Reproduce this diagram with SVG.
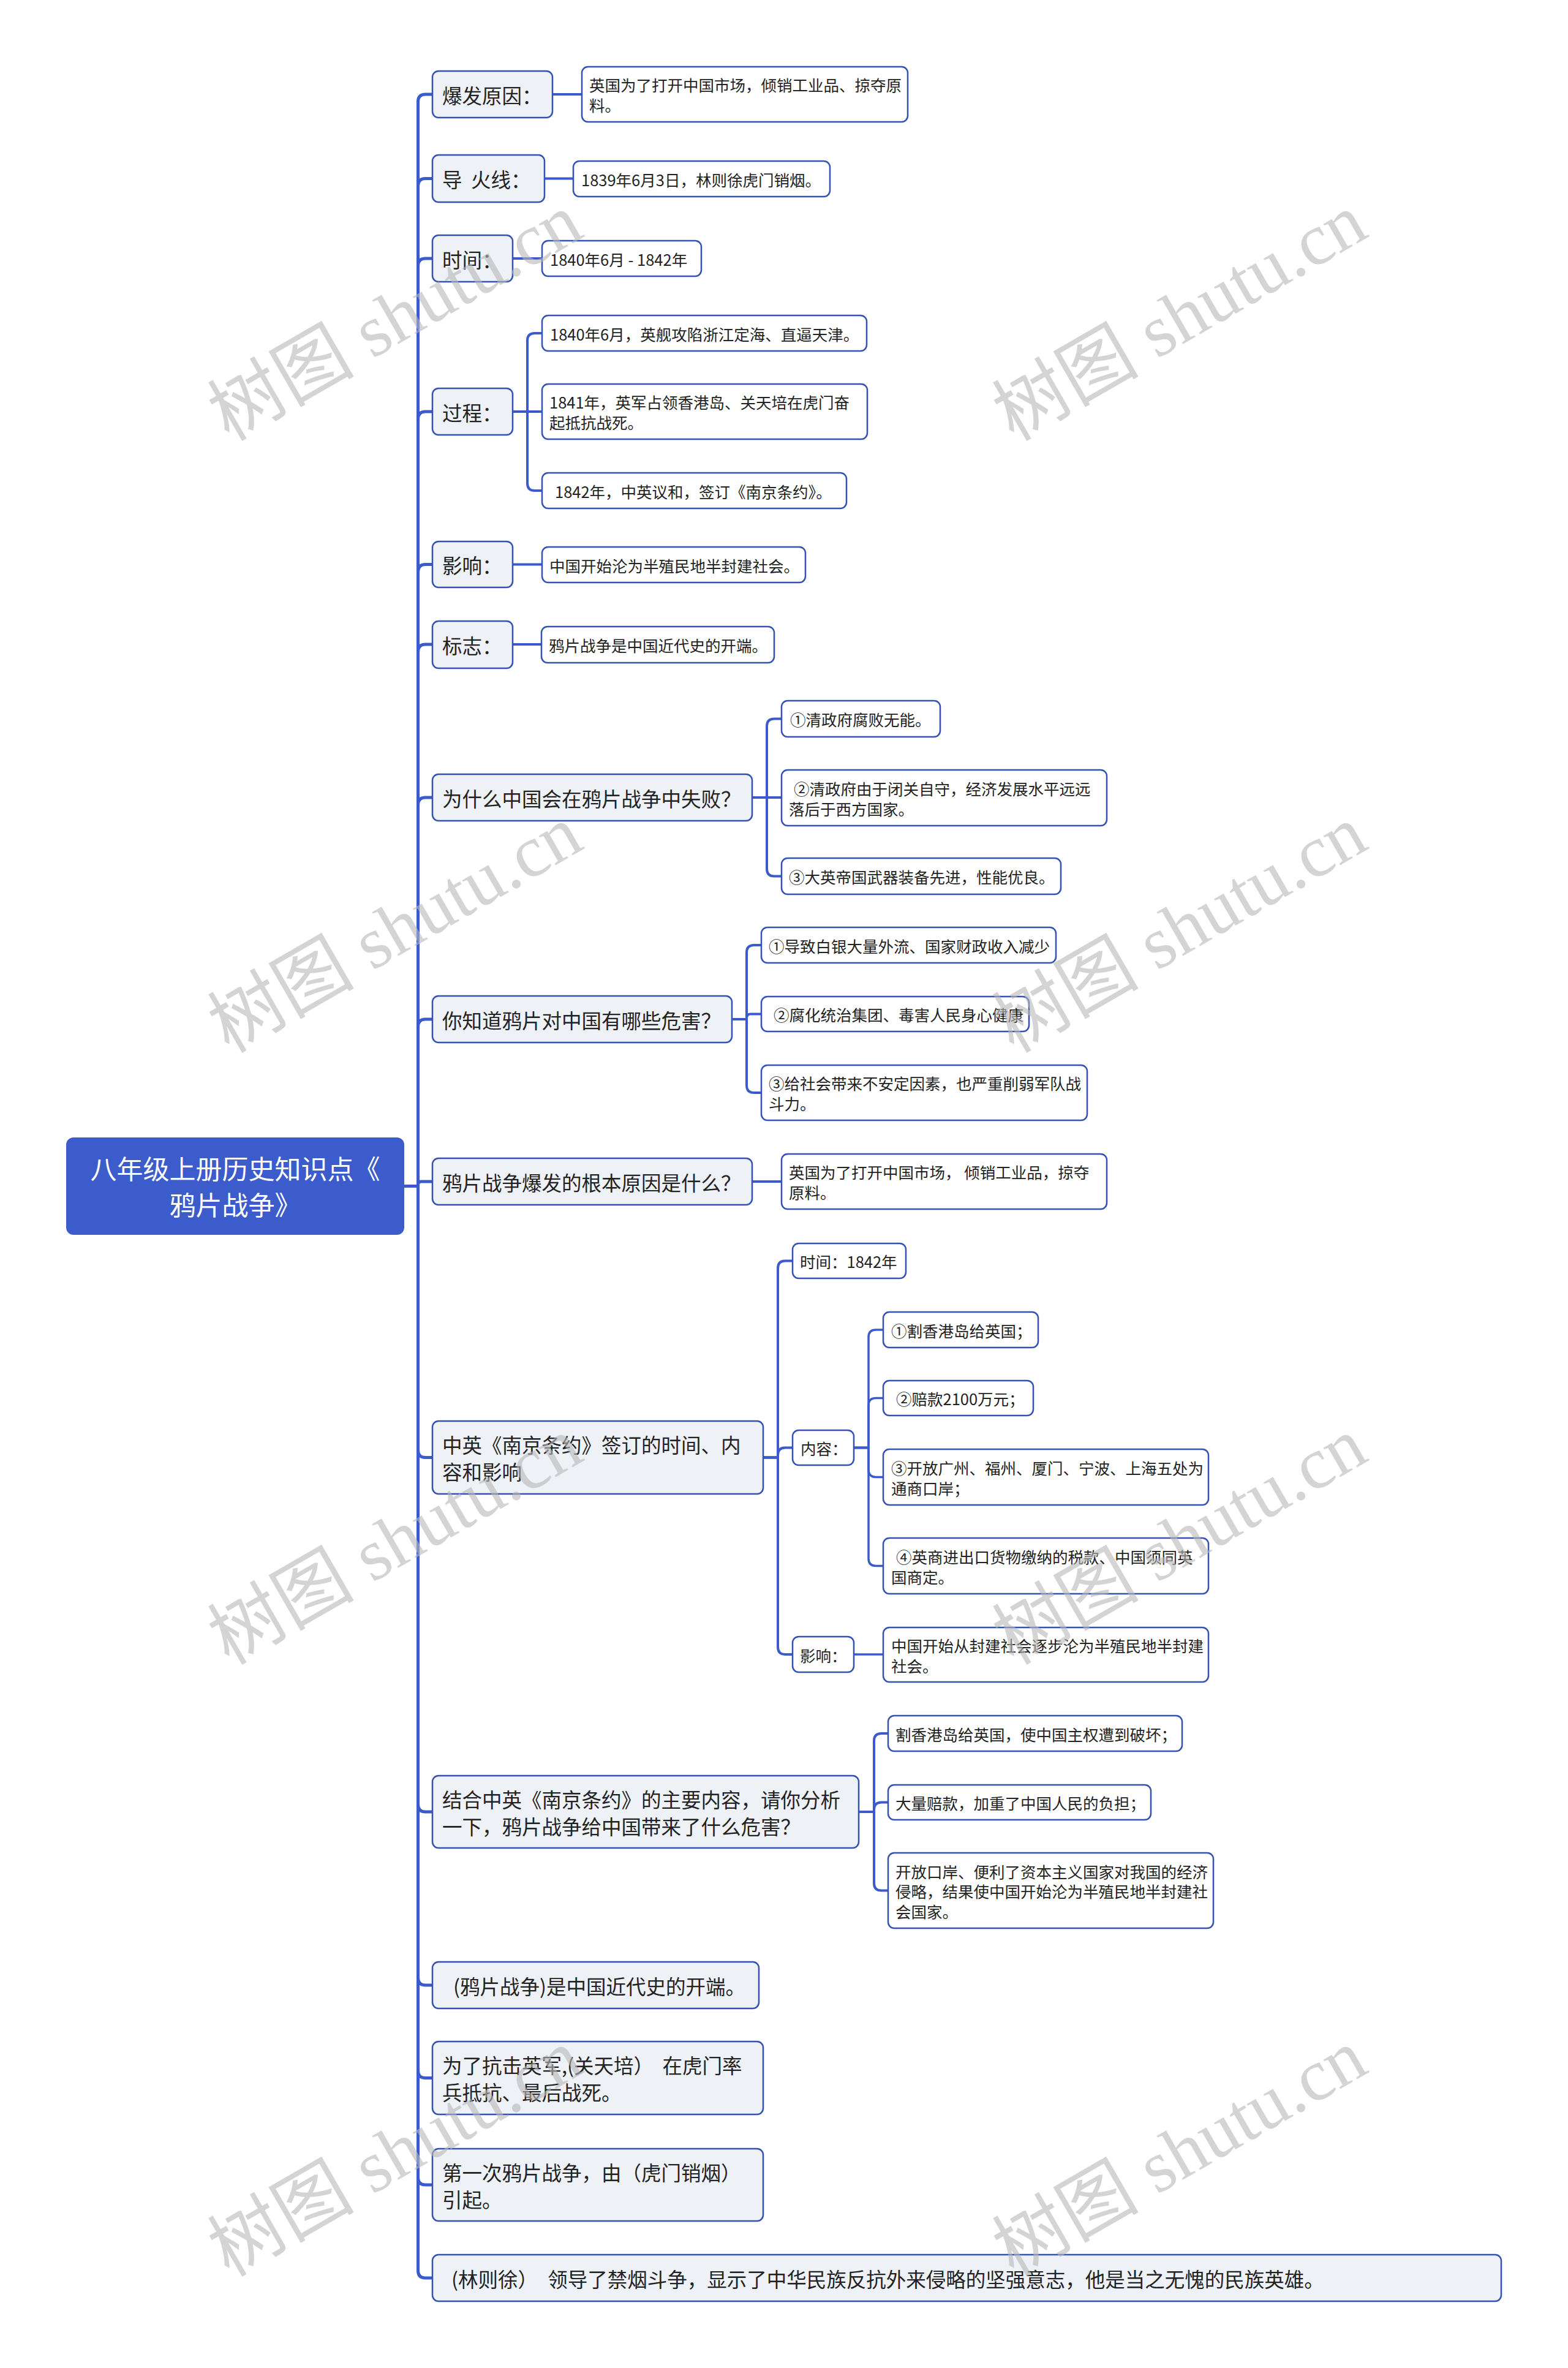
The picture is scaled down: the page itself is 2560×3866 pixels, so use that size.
<svg xmlns="http://www.w3.org/2000/svg" width="2560" height="3866" viewBox="0 0 2560 3866">
<style>
text{font-family:"Noto Sans CJK SC","Noto Sans",sans-serif;dominant-baseline:central;fill:#222222}
.m rect{fill:#eef1f6;stroke:#3352b3;stroke-width:2.5}
.l rect{fill:#ffffff;stroke:#3352b3;stroke-width:2.5}
.m text{font-size:32.5px}
.l text{font-size:25.5px}
.pre{white-space:pre}
#root rect{fill:#3d5ccb}
#root text{font-size:43px;fill:#ffffff;text-anchor:middle}
#connectors path{fill:none;stroke:#3b5bcc;stroke-linejoin:round}
.c1{stroke-width:5}
.c2{stroke-width:4}
.c3{stroke-width:3.5}
#watermark text{font-family:"Liberation Serif","Noto Sans CJK SC",serif;font-size:120px;fill:#b8b8b8;opacity:0.6;text-anchor:middle}
</style>
<rect width="2560" height="3866" fill="#ffffff"/>
<g id="connectors">
<path class="c1" d="M660 1936.5H682.5V166Q682.5 154 694.5 154H706"/>
<path class="c1" d="M660 1936.5H682.5V303.5Q682.5 291.5 694.5 291.5H706"/>
<path class="c1" d="M660 1936.5H682.5V434Q682.5 422 694.5 422H706"/>
<path class="c1" d="M660 1936.5H682.5V684Q682.5 672 694.5 672H706"/>
<path class="c1" d="M660 1936.5H682.5V933.5Q682.5 921.5 694.5 921.5H706"/>
<path class="c1" d="M660 1936.5H682.5V1064Q682.5 1052 694.5 1052H706"/>
<path class="c1" d="M660 1936.5H682.5V1314Q682.5 1302 694.5 1302H706"/>
<path class="c1" d="M660 1936.5H682.5V1676Q682.5 1664 694.5 1664H706"/>
<path class="c1" d="M660 1936.5H682.5V1934Q682.5 1929 687.5 1929H706"/>
<path class="c1" d="M660 1936.5H682.5V2367.5Q682.5 2379.5 694.5 2379.5H706"/>
<path class="c1" d="M660 1936.5H682.5V2946Q682.5 2958 694.5 2958H706"/>
<path class="c1" d="M660 1936.5H682.5V3229Q682.5 3241 694.5 3241H706"/>
<path class="c1" d="M660 1936.5H682.5V3380.5Q682.5 3392.5 694.5 3392.5H706"/>
<path class="c1" d="M660 1936.5H682.5V3555Q682.5 3567 694.5 3567H706"/>
<path class="c1" d="M660 1936.5H682.5V3707Q682.5 3719 694.5 3719H706"/>
<path class="c2" d="M902 154H950"/>
<path class="c2" d="M889 291.5H936"/>
<path class="c2" d="M837 422H885"/>
<path class="c2" d="M837 672H861V556Q861 544 873 544H885"/>
<path class="c2" d="M837 672H885"/>
<path class="c2" d="M837 672H861V789Q861 801 873 801H885"/>
<path class="c2" d="M837 921.5H885"/>
<path class="c2" d="M837 1052H884"/>
<path class="c2" d="M1228 1302H1252V1185.5Q1252 1173.5 1264 1173.5H1276"/>
<path class="c2" d="M1228 1302H1276"/>
<path class="c2" d="M1228 1302H1252V1418.5Q1252 1430.5 1264 1430.5H1276"/>
<path class="c2" d="M1195 1664H1219V1555Q1219 1543 1231 1543H1243"/>
<path class="c2" d="M1195 1664H1219V1662Q1219 1655.5 1225.5 1655.5H1243"/>
<path class="c2" d="M1195 1664H1219V1772Q1219 1784 1231 1784H1243"/>
<path class="c2" d="M1228 1929H1276"/>
<path class="c2" d="M1246 2379.5H1270V2070.5Q1270 2058.5 1282 2058.5H1294"/>
<path class="c2" d="M1246 2379.5H1270V2375.5Q1270 2363.5 1282 2363.5H1294"/>
<path class="c2" d="M1246 2379.5H1270V2689Q1270 2701 1282 2701H1294"/>
<path class="c3" d="M1394 2363.5H1418V2183Q1418 2171 1430 2171H1442"/>
<path class="c3" d="M1394 2363.5H1418V2294.5Q1418 2282.5 1430 2282.5H1442"/>
<path class="c3" d="M1394 2363.5H1418V2399.5Q1418 2411.5 1430 2411.5H1442"/>
<path class="c3" d="M1394 2363.5H1418V2544.5Q1418 2556.5 1430 2556.5H1442"/>
<path class="c3" d="M1394 2701H1442"/>
<path class="c2" d="M1402 2958H1427V2842Q1427 2830 1439 2830H1450"/>
<path class="c2" d="M1402 2958H1427V2954.5Q1427 2942.5 1439 2942.5H1450"/>
<path class="c2" d="M1402 2958H1427V3074.5Q1427 3086.5 1439 3086.5H1450"/>
</g>
<g id="root"><rect x="108" y="1857" width="552" height="159" rx="12"/><text x="384" y="1906">八年级上册历史知识点《</text><text x="384" y="1965">鸦片战争》</text></g>
<g id="n1" class="m"><rect x="706" y="116" width="196" height="76" rx="10"/><text x="722" y="154">爆发原因：</text></g>
<g id="n1a" class="l"><rect x="950" y="109" width="532" height="90" rx="10"/><text x="962" y="137.5">英国为了打开中国市场，倾销工业品、掠夺原</text><text x="962" y="170.5">料。</text></g>
<g id="n2" class="m"><rect x="706" y="253" width="183" height="77" rx="10"/><text class="pre" x="722" y="291.5">导  火线：</text></g>
<g id="n2a" class="l"><rect x="936" y="263" width="419" height="58" rx="10"/><text x="949" y="292">1839年6月3日，林则徐虎门销烟。</text></g>
<g id="n3" class="m"><rect x="706" y="384" width="131" height="76" rx="10"/><text x="722" y="422">时间：</text></g>
<g id="n3a" class="l"><rect x="885" y="393" width="260" height="58" rx="10"/><text x="898" y="422">1840年6月 - 1842年</text></g>
<g id="n4" class="m"><rect x="706" y="634" width="131" height="76" rx="10"/><text x="722" y="672">过程：</text></g>
<g id="n4a" class="l"><rect x="885" y="515" width="530" height="58" rx="10"/><text x="898" y="544">1840年6月，英舰攻陷浙江定海、直逼天津。</text></g>
<g id="n4b" class="l"><rect x="885" y="627" width="531" height="90" rx="10"/><text x="897" y="655.5">1841年，英军占领香港岛、关天培在虎门奋</text><text x="897" y="688.5">起抵抗战死。</text></g>
<g id="n4c" class="l"><rect x="885" y="772" width="497" height="58" rx="10"/><text x="906" y="801">1842年，中英议和，签订《南京条约》。</text></g>
<g id="n5" class="m"><rect x="706" y="884" width="131" height="75" rx="10"/><text x="722" y="921.5">影响：</text></g>
<g id="n5a" class="l"><rect x="885" y="893" width="430" height="58" rx="10"/><text x="897" y="922">中国开始沦为半殖民地半封建社会。</text></g>
<g id="n6" class="m"><rect x="706" y="1014" width="131" height="77" rx="10"/><text x="722" y="1052">标志：</text></g>
<g id="n6a" class="l"><rect x="884" y="1023" width="380" height="59" rx="10"/><text x="896" y="1052.5">鸦片战争是中国近代史的开端。</text></g>
<g id="n7" class="m"><rect x="706" y="1264" width="522" height="76" rx="10"/><text x="722" y="1302">为什么中国会在鸦片战争中失败？</text></g>
<g id="n7a" class="l"><rect x="1276" y="1144" width="259" height="59" rx="10"/><text x="1290" y="1173.5">①清政府腐败无能。</text></g>
<g id="n7b" class="l"><rect x="1276" y="1257" width="531" height="91" rx="10"/><text x="1296" y="1286">②清政府由于闭关自守，经济发展水平远远</text><text x="1288" y="1319">落后于西方国家。</text></g>
<g id="n7c" class="l"><rect x="1276" y="1401" width="456" height="59" rx="10"/><text x="1288" y="1430.5">③大英帝国武器装备先进，性能优良。</text></g>
<g id="n8" class="m"><rect x="706" y="1626" width="489" height="76" rx="10"/><text x="722" y="1664">你知道鸦片对中国有哪些危害？</text></g>
<g id="n8a" class="l"><rect x="1243" y="1514" width="481" height="58" rx="10"/><text x="1255" y="1543">①导致白银大量外流、国家财政收入减少</text></g>
<g id="n8b" class="l"><rect x="1243" y="1627" width="437" height="57" rx="10"/><text x="1263" y="1655.5">②腐化统治集团、毒害人民身心健康</text></g>
<g id="n8c" class="l"><rect x="1243" y="1739" width="532" height="90" rx="10"/><text x="1255" y="1767.5">③给社会带来不安定因素，也严重削弱军队战</text><text x="1255" y="1800.5">斗力。</text></g>
<g id="n9" class="m"><rect x="706" y="1891" width="522" height="76" rx="10"/><text x="722" y="1929">鸦片战争爆发的根本原因是什么？</text></g>
<g id="n9a" class="l"><rect x="1276" y="1884" width="531" height="90" rx="10"/><text class="pre" x="1288" y="1912.5">英国为了打开中国市场， 倾销工业品，掠夺</text><text x="1288" y="1945.5">原料。</text></g>
<g id="n10" class="m"><rect x="706" y="2320" width="540" height="119" rx="10"/><text x="722" y="2357.5">中英《南京条约》签订的时间、内</text><text x="722" y="2401.5">容和影响</text></g>
<g id="n10a" class="l"><rect x="1294" y="2030" width="185" height="57" rx="10"/><text x="1306" y="2058.5">时间：1842年</text></g>
<g id="n10b" class="l"><rect x="1294" y="2335" width="100" height="57" rx="10"/><text x="1307" y="2363.5">内容：</text></g>
<g id="n10b1" class="l"><rect x="1442" y="2142" width="253" height="58" rx="10"/><text x="1455" y="2171">①割香港岛给英国；</text></g>
<g id="n10b2" class="l"><rect x="1442" y="2254" width="245" height="57" rx="10"/><text x="1463" y="2282.5">②赔款2100万元；</text></g>
<g id="n10b3" class="l"><rect x="1442" y="2366" width="531" height="91" rx="10"/><text x="1455" y="2395">③开放广州、福州、厦门、宁波、上海五处为</text><text x="1455" y="2428">通商口岸；</text></g>
<g id="n10b4" class="l"><rect x="1442" y="2511" width="531" height="91" rx="10"/><text x="1463" y="2540">④英商进出口货物缴纳的税款、中国须同英</text><text x="1455" y="2573">国商定。</text></g>
<g id="n10c" class="l"><rect x="1294" y="2672" width="100" height="58" rx="10"/><text x="1306" y="2701">影响：</text></g>
<g id="n10c1" class="l"><rect x="1442" y="2657" width="531" height="89" rx="10"/><text x="1455" y="2685">中国开始从封建社会逐步沦为半殖民地半封建</text><text x="1455" y="2718">社会。</text></g>
<g id="n11" class="m"><rect x="706" y="2899" width="696" height="118" rx="10"/><text x="722" y="2936">结合中英《南京条约》的主要内容，请你分析</text><text x="722" y="2980">一下，鸦片战争给中国带来了什么危害？</text></g>
<g id="n11a" class="l"><rect x="1450" y="2801" width="480" height="58" rx="10"/><text x="1462" y="2830">割香港岛给英国，使中国主权遭到破坏；</text></g>
<g id="n11b" class="l"><rect x="1450" y="2914" width="429" height="57" rx="10"/><text x="1462" y="2942.5">大量赔款，加重了中国人民的负担；</text></g>
<g id="n11c" class="l"><rect x="1450" y="3025" width="531" height="123" rx="10"/><text x="1462" y="3054">开放口岸、便利了资本主义国家对我国的经济</text><text x="1462" y="3086.5">侵略，结果使中国开始沦为半殖民地半封建社</text><text x="1462" y="3119">会国家。</text></g>
<g id="n12" class="m"><rect x="706" y="3203" width="533" height="76" rx="10"/><text x="740" y="3241">(鸦片战争)是中国近代史的开端。</text></g>
<g id="n13" class="m"><rect x="706" y="3333" width="540" height="119" rx="10"/><text class="pre" x="722" y="3370.5">为了抗击英军,(关天培）  在虎门率</text><text x="722" y="3414.5">兵抵抗、最后战死。</text></g>
<g id="n14" class="m"><rect x="706" y="3508" width="540" height="118" rx="10"/><text x="722" y="3545">第一次鸦片战争，由（虎门销烟）</text><text x="722" y="3589">引起。</text></g>
<g id="n15" class="m"><rect x="706" y="3681" width="1745" height="76" rx="10"/><text class="pre" x="737" y="3719">(林则徐）　领导了禁烟斗争，显示了中华民族反抗外来侵略的坚强意志，他是当之无愧的民族英雄。</text></g>
<g id="watermark">
<text x="645" y="518" transform="rotate(-30 645 518)">树图 shutu.cn</text>
<text x="1926" y="518" transform="rotate(-30 1926 518)">树图 shutu.cn</text>
<text x="645" y="1517" transform="rotate(-30 645 1517)">树图 shutu.cn</text>
<text x="1926" y="1517" transform="rotate(-30 1926 1517)">树图 shutu.cn</text>
<text x="645" y="2516" transform="rotate(-30 645 2516)">树图 shutu.cn</text>
<text x="1926" y="2516" transform="rotate(-30 1926 2516)">树图 shutu.cn</text>
<text x="645" y="3515" transform="rotate(-30 645 3515)">树图 shutu.cn</text>
<text x="1926" y="3515" transform="rotate(-30 1926 3515)">树图 shutu.cn</text>
</g>
</svg>
